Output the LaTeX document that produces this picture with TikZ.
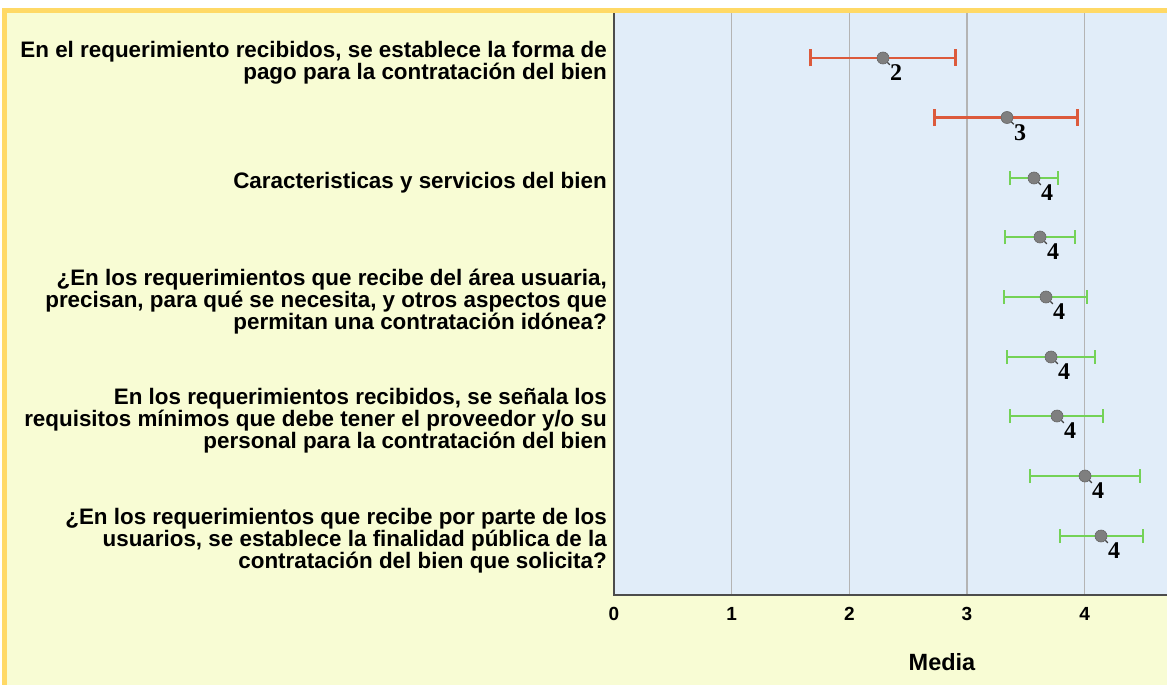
\documentclass[tikz,border=0pt]{standalone}
\usepackage{fontspec}
\setmainfont{Liberation Sans}
\newfontfamily\numfont{Liberation Serif}
\usetikzlibrary{arrows.meta}
\definecolor{panel}{HTML}{F8FCD4}
\definecolor{rim}{HTML}{FFD966}
\definecolor{plotbg}{HTML}{E1EDF9}
\definecolor{gridgray}{HTML}{B4B4B4}
\definecolor{barred}{HTML}{DC5A3C}
\definecolor{bargreen}{HTML}{74D257}
\definecolor{dotgray}{HTML}{7F7F7F}

\begin{document}
\begin{tikzpicture}[x=1pt, y=-1pt,
  lab/.style={anchor=east, align=right, inner sep=0pt, font=\fontsize{22.4}{22}\selectfont\bfseries},
  tick/.style={inner sep=0pt, font=\fontsize{19}{19}\selectfont\bfseries},
  mean/.style={circle, fill=dotgray, draw=dotgray!80!black, line width=0.6pt, inner sep=0pt, minimum size=12pt},
  val/.style={inner sep=0pt, font=\fontsize{24}{24}\selectfont\numfont\bfseries},
  leader/.style={line width=1.3pt, black!75},
  redbar/.style={barred, line width=2.6pt, {Bar[width=17pt,line width=2.6pt]}-{Bar[width=17pt,line width=2.6pt]}},
  greenbar/.style={bargreen, line width=2pt, {Bar[width=14pt,line width=2pt]}-{Bar[width=14pt,line width=2pt]}},
  gridline/.style={gridgray, line width=1.5pt}]
\useasboundingbox (0,0) rectangle (1167,685);
\fill[white] (0,0) rectangle (1167,685);
\fill[panel] (4.5,11) rectangle (1167,685);
\draw[rim, line width=5pt] (4.5,685) -- (4.5,11) -- (1167,11);
\fill[plotbg] (614,13.5) rectangle (1167,595);
\draw[gridline] (731.7,13.5) -- (731.7,595);
\draw[gridline] (849.3,13.5) -- (849.3,595);
\draw[gridline] (967,13.5) -- (967,595);
\draw[gridline] (1084.7,13.5) -- (1084.7,595);
\draw[black!70, line width=1.5pt] (614,13.5) -- (614,595) -- (1167,595);

\node[lab] (q1) at (607,63) {En el requerimiento recibidos, se establece la forma de\\pago para la contratación del bien};
\node[lab] (q3) at (607,183) {Caracteristicas y servicios del bien};
\node[lab] (q5) at (607,302) {¿En los requerimientos que recibe del área usuaria,\\precisan, para qué se necesita, y otros aspectos que\\permitan una contratación idónea?};
\node[lab] (q7) at (607,421) {En los requerimientos recibidos, se señala los\\requisitos mínimos que debe tener el proveedor y/o su\\personal para la contratación del bien};
\node[lab] (q9) at (607,541) {¿En los requerimientos que recibe por parte de los\\usuarios, se establece la finalidad pública de la\\contratación del bien que solicita?};

\coordinate (l1) at (809,58);    \coordinate (h1) at (957,58);
\coordinate (l2) at (933,117.5); \coordinate (h2) at (1079,117.5);
\coordinate (l3) at (1009,178);  \coordinate (h3) at (1059,178);
\coordinate (l4) at (1004,237);  \coordinate (h4) at (1076,237);
\coordinate (l5) at (1003,297);  \coordinate (h5) at (1088,297);
\coordinate (l6) at (1006,357);  \coordinate (h6) at (1096,357);
\coordinate (l7) at (1009,416);  \coordinate (h7) at (1104,416);
\coordinate (l8) at (1029,476);  \coordinate (h8) at (1141,476);
\coordinate (l9) at (1059,536);  \coordinate (h9) at (1144,536);
\draw[redbar] (l1) -- (h1);
\draw[redbar] (l2) -- (h2);
\draw[greenbar] (l3) -- (h3);
\draw[greenbar] (l4) -- (h4);
\draw[greenbar] (l5) -- (h5);
\draw[greenbar] (l6) -- (h6);
\draw[greenbar] (l7) -- (h7);
\draw[greenbar] (l8) -- (h8);
\draw[greenbar] (l9) -- (h9);

\node[mean] (p1) at (883,58) {};    \node[val] (v1) at (896,73) {2};
\node[mean] (p2) at (1007,117.5) {}; \node[val] (v2) at (1020,132.5) {3};
\node[mean] (p3) at (1034,178) {};   \node[val] (v3) at (1047,193) {4};
\node[mean] (p4) at (1040,237) {};   \node[val] (v4) at (1053,252) {4};
\node[mean] (p5) at (1046,297) {};   \node[val] (v5) at (1059,312) {4};
\node[mean] (p6) at (1051,357) {};   \node[val] (v6) at (1064,372) {4};
\node[mean] (p7) at (1057,416) {};   \node[val] (v7) at (1070,431) {4};
\node[mean] (p8) at (1085,476) {};   \node[val] (v8) at (1098,491) {4};
\node[mean] (p9) at (1101,536) {};   \node[val] (v9) at (1114,551) {4};
\draw[leader] (p1.south east) -- (v1.north west);
\draw[leader] (p2.south east) -- (v2.north west);
\draw[leader] (p3.south east) -- (v3.north west);
\draw[leader] (p4.south east) -- (v4.north west);
\draw[leader] (p5.south east) -- (v5.north west);
\draw[leader] (p6.south east) -- (v6.north west);
\draw[leader] (p7.south east) -- (v7.north west);
\draw[leader] (p8.south east) -- (v8.north west);
\draw[leader] (p9.south east) -- (v9.north west);

\node[tick] (t0) at (614,614) {0};
\node[tick] (t1) at (731.7,614) {1};
\node[tick] (t2) at (849.3,614) {2};
\node[tick] (t3) at (967,614) {3};
\node[tick] (t4) at (1084.7,614) {4};
\node[inner sep=0pt, font=\fontsize{23.5}{23.5}\selectfont\bfseries] (ax) at (942,662) {Media};
\end{tikzpicture}
\end{document}
